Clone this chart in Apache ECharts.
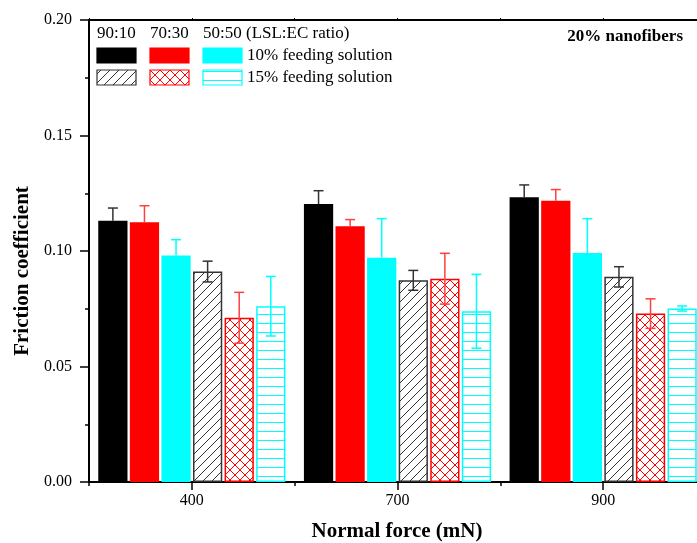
<!DOCTYPE html>
<html><head><meta charset="utf-8">
<script src="https://cdn.jsdelivr.net/npm/echarts@6/dist/echarts.min.js"></script>
<style>html,body{margin:0;padding:0;background:#fff}#c{width:697px;height:543px}</style>
</head><body><div id="c"></div>
<script>
// ---- data ----
const categories = ['400', '700', '900'];
const yTickLabels = ['0.00', '0.05', '0.10', '0.15', '0.20'];
const ratioLabels = ['90:10', '70:30', '50:50 (LSL:EC ratio)'];
const feedLabels = ['10% feeding solution', '15% feeding solution'];
const panelNote = '20% nanofibers';
const xTitle = 'Normal force (mN)';
const yTitle = 'Friction coefficient';

const v9010_10 = [0.1131, 0.1203, 0.1233];
const e9010_10 = [0.0055, 0.0058, 0.0053];
const v7030_10 = [0.1124, 0.1107, 0.1218];
const e7030_10 = [0.0072, 0.0029, 0.0048];
const v5050_10 = [0.0981, 0.0971, 0.0991];
const e5050_10 = [0.0068, 0.0169, 0.0149];
const v9010_15 = [0.0911, 0.0873, 0.0888];
const e9010_15 = [0.0045, 0.0043, 0.0044];
const v7030_15 = [0.0711, 0.0880, 0.0729];
const e7030_15 = [0.0110, 0.0110, 0.0064];
const v5050_15 = [0.0761, 0.0739, 0.0751];
const e5050_15 = [0.0129, 0.0160, 0.0011];

// ---- styles ----
const FONT = '"Liberation Serif", "Times New Roman", serif';
const BLACK = '#000000', RED = '#ff0000', CYAN = '#00ffff', HATCH = '#333333';
const N_BARS = 6, CAT_GAP = 0.09, BAR_GAP = 0.08;

function makePattern(kind, color) {
  const s = kind === 'cross' ? 10 : 9;
  const c = document.createElement('canvas');
  c.width = s; c.height = s;
  const g = c.getContext('2d');
  g.fillStyle = '#ffffff'; g.fillRect(0, 0, s, s);
  g.strokeStyle = color; g.lineWidth = 1;
  g.beginPath();
  if (kind === 'diag' || kind === 'cross') {
    g.moveTo(-1, s + 1); g.lineTo(s + 1, -1);
    g.moveTo(-2, 2); g.lineTo(2, -2);
    g.moveTo(s - 2, s + 2); g.lineTo(s + 2, s - 2);
  }
  if (kind === 'cross') {
    g.moveTo(-1, -1); g.lineTo(s + 1, s + 1);
    g.moveTo(s - 2, -2); g.lineTo(s + 2, 2);
    g.moveTo(-2, s - 2); g.lineTo(2, s + 2);
  }
  if (kind === 'horiz') {
    g.moveTo(0, s - 0.5); g.lineTo(s, s - 0.5);
  }
  g.stroke();
  return { image: c, repeat: 'repeat' };
}

const patDiag = makePattern('diag', HATCH);
const patCross = makePattern('cross', RED);
const patHoriz = makePattern('horiz', CYAN);

function barSeries(name, vals, fill, border) {
  return {
    name: name, type: 'bar', xAxisIndex: 0, yAxisIndex: 0,
    data: vals, barGap: (BAR_GAP * 100) + '%', barCategoryGap: (CAT_GAP * 100) + '%',
    itemStyle: { color: fill, borderColor: border || fill, borderWidth: border ? 1.5 : 0 },
    z: 2
  };
}

function errorSeries(idx, vals, errs, color, upOnly) {
  return {
    type: 'custom', xAxisIndex: 0, yAxisIndex: 0, z: 5,
    encode: { x: 0, y: [1, 2] },
    data: vals.map((v, i) => [i, upOnly ? v : v - errs[i], v + errs[i]]),
    renderItem: function (params, api) {
      const ci = api.value(0);
      const band = api.size([1, 0])[0];
      const used = band * (1 - CAT_GAP);
      const bw = used / (N_BARS + (N_BARS - 1) * BAR_GAP);
      const xOff = -used / 2 + idx * bw * (1 + BAR_GAP) + bw / 2;
      const lo = api.coord([ci, api.value(1)]);
      const hi = api.coord([ci, api.value(2)]);
      const x = lo[0] + xOff;
      const cap = 5;
      const st = { stroke: color, lineWidth: 1.5 };
      const kids = [
        { type: 'line', shape: { x1: x, y1: lo[1], x2: x, y2: hi[1] }, style: st },
        { type: 'line', shape: { x1: x - cap, y1: hi[1], x2: x + cap, y2: hi[1] }, style: st }
      ];
      if (!upOnly) kids.push({ type: 'line', shape: { x1: x - cap, y1: lo[1], x2: x + cap, y2: lo[1] }, style: st });
      return { type: 'group', children: kids };
    }
  };
}

const chart = echarts.init(document.getElementById('c'), null, { renderer: 'canvas' });

function txt(text, x, y, size, weight, align, rot) {
  return {
    type: 'text', x: x, y: y, rotation: rot || 0, z: 20,
    style: { text: text, fontFamily: FONT, fontSize: size, fontWeight: weight || 'normal',
      fill: '#000', align: align || 'left', verticalAlign: 'middle' }
  };
}
function sw(x, y, fill, stroke) {
  return { type: 'rect', z: 20, shape: { x: x, y: y, width: 39, height: 15 },
    style: { fill: fill, stroke: stroke, lineWidth: 1.2 } };
}

const option = {
  animation: false,
  backgroundColor: '#ffffff',
  grid: { left: 89, top: 20, width: 617, height: 462, containLabel: false, outerBoundsMode: 'none' },
  xAxis: [
    { type: 'category', data: categories, position: 'bottom',
      axisLine: { show: true, lineStyle: { color: BLACK, width: 2 } },
      axisTick: { show: true, alignWithLabel: true, length: 8, lineStyle: { color: BLACK, width: 1.5 } },
      axisLabel: { fontFamily: FONT, fontSize: 16, color: BLACK, margin: 11 },
      splitLine: { show: false } },
    { type: 'value', position: 'bottom', min: 0, max: 3, interval: 1,
      axisLine: { show: false }, axisLabel: { show: false }, splitLine: { show: false },
      axisTick: { show: true, length: 4, lineStyle: { color: BLACK, width: 1.5 } } },
    { type: 'value', position: 'top', min: 0, max: 3, interval: 0.5,
      axisLine: { show: true, lineStyle: { color: BLACK, width: 2 } },
      axisLabel: { show: false }, splitLine: { show: false },
      axisTick: { show: true, length: 2, lineStyle: { color: BLACK, width: 1 } } }
  ],
  yAxis: {
    type: 'value', min: 0, max: 0.2, interval: 0.05,
    axisLine: { show: true, lineStyle: { color: BLACK, width: 2 } },
    axisTick: { show: true, length: 9, lineStyle: { color: BLACK, width: 1.5 } },
    minorTick: { show: true, splitNumber: 2, length: 4, lineStyle: { color: BLACK, width: 1.5 } },
    splitLine: { show: false },
    axisLabel: { fontFamily: FONT, fontSize: 16, color: BLACK, margin: 17,
      formatter: function (v) { return yTickLabels[Math.round(v / 0.05)]; } }
  },
  series: [
    barSeries('90:10 10%', v9010_10, BLACK),
    barSeries('70:30 10%', v7030_10, RED),
    barSeries('50:50 10%', v5050_10, CYAN),
    barSeries('90:10 15%', v9010_15, patDiag, HATCH),
    barSeries('70:30 15%', v7030_15, patCross, RED),
    barSeries('50:50 15%', v5050_15, patHoriz, CYAN),
    errorSeries(0, v9010_10, e9010_10, '#333333', true),
    errorSeries(1, v7030_10, e7030_10, '#ff4040', true),
    errorSeries(2, v5050_10, e5050_10, CYAN, true),
    errorSeries(3, v9010_15, e9010_15, '#333333', false),
    errorSeries(4, v7030_15, e7030_15, '#ff4040', false),
    errorSeries(5, v5050_15, e5050_15, CYAN, false)
  ],
  graphic: [
    txt(yTitle, 23, 271, 21, 'bold', 'center', Math.PI / 2),
    txt(xTitle, 397, 532, 21, 'bold', 'center'),
    txt(panelNote, 683, 37, 17, 'bold', 'right'),
    txt(ratioLabels[0], 97, 34, 17),
    txt(ratioLabels[1], 150, 34, 17),
    txt(ratioLabels[2], 203, 34, 17),
    sw(97, 48, BLACK, BLACK), sw(150, 48, RED, RED), sw(203, 48, CYAN, CYAN),
    txt(feedLabels[0], 247, 56, 17),
    sw(97, 70, patDiag, HATCH), sw(150, 70, patCross, RED), sw(203, 70, patHoriz, CYAN),
    txt(feedLabels[1], 247, 78, 17)
  ]
};
chart.setOption(option);
</script>
</body></html>
